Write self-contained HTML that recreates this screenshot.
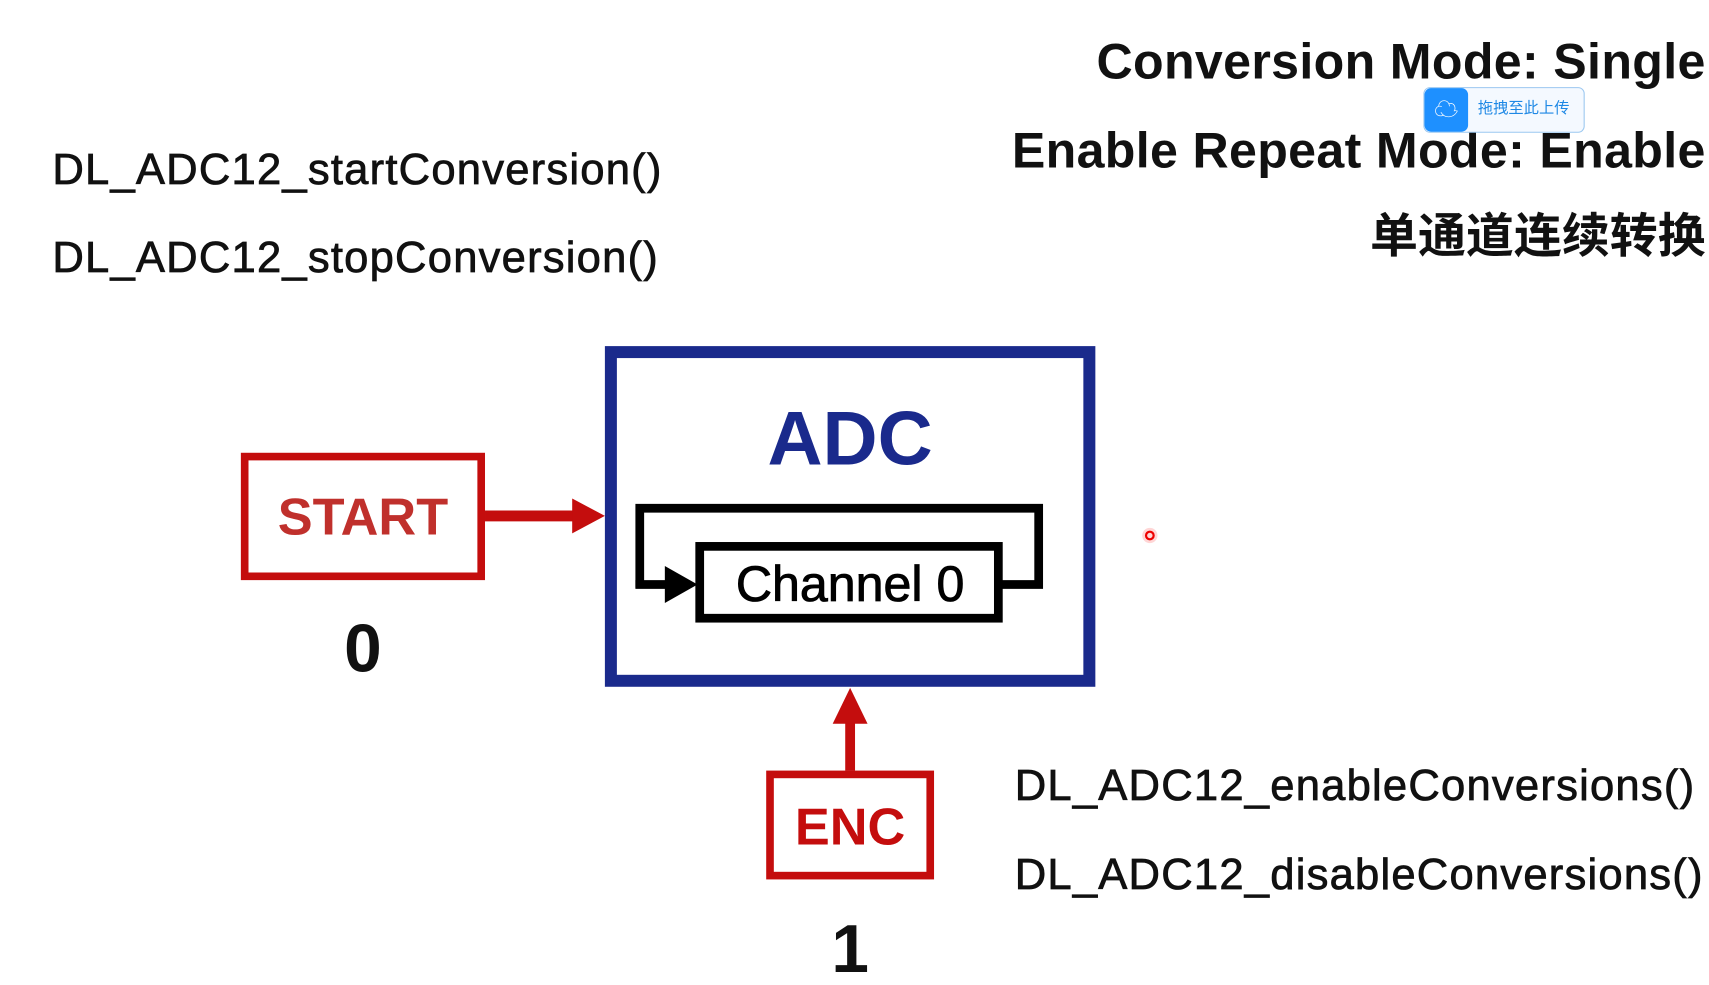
<!DOCTYPE html>
<html><head><meta charset="utf-8"><style>
html,body{margin:0;padding:0;background:#fff;overflow:hidden;width:1709px;height:985px}
#s{position:absolute;left:0;top:0;width:1568px;height:905px;transform:scale(1.0899,1.0884);transform-origin:0 0;font-family:"Liberation Sans","Noto Sans CJK SC",sans-serif}
.t{position:absolute;white-space:nowrap;line-height:1}
.r{right:3px;text-align:right;font-weight:bold;font-size:46px;color:#111}
.f{left:48px;font-size:40px;color:#111;letter-spacing:1.1px;-webkit-text-stroke:0.7px #111}
</style></head><body><div id="s">
<div class="t r" style="top:33px;letter-spacing:0.3px">Conversion Mode: Single</div>
<div class="t r" style="top:115px;letter-spacing:0.3px">Enable Repeat Mode: Enable</div>
<div class="t r" style="top:196px;font-size:44px">单通道连续转换</div>
<div style="position:absolute;left:1306px;top:80px;width:146px;height:40px;border:1px solid #9cc8f0;border-radius:6px;background:#f4f9ff"></div>
<div style="position:absolute;left:1307px;top:81px;width:40px;height:40px;border-radius:6px;background:#1e90ff;color:#fff;font-size:22px;text-align:center;line-height:40px">☁</div>
<div class="t" style="left:1356px;top:92px;font-size:14px;color:#1e88e5">拖拽至此上传</div>
<div class="t f" style="top:136px">DL_ADC12_startConversion()</div>
<div class="t f" style="top:217px">DL_ADC12_stopConversion()</div>
<div class="t f" style="left:931px;top:702px">DL_ADC12_enableConversions()</div>
<div class="t f" style="left:931px;top:784px">DL_ADC12_disableConversions()</div>
<svg width="1568" height="905" style="position:absolute;left:0;top:0">
<rect x="560.5" y="323.5" width="439" height="302" fill="none" stroke="#1a2a8c" stroke-width="11"/>
<text x="780" y="427" text-anchor="middle" font-family="Liberation Sans" font-weight="bold" font-size="70" fill="#1a2a8c">ADC</text>
<polyline points="587,540 587,467 953,467 953,537 918,537" fill="none" stroke="#000" stroke-width="8"/>
<line x1="583" y1="537" x2="615" y2="537" stroke="#000" stroke-width="8"/>
<polygon points="610,520 640,537 610,554" fill="#000"/>
<rect x="642" y="502" width="274" height="66" fill="#fff" stroke="#000" stroke-width="8"/>
<text x="780" y="552" text-anchor="middle" font-family="Liberation Sans" font-size="46" fill="#000" stroke="#000" stroke-width="0.8">Channel 0</text>
<rect x="224.5" y="419.5" width="217" height="110" fill="none" stroke="#c40d0d" stroke-width="7"/>
<text x="333" y="491" text-anchor="middle" font-family="Liberation Sans" font-weight="bold" font-size="48" fill="#c0302c">START</text>
<line x1="445" y1="474" x2="528" y2="474" stroke="#c40d0d" stroke-width="10"/>
<polygon points="525,458 555,474 525,490" fill="#c40d0d"/>
<text x="333" y="617" text-anchor="middle" font-family="Liberation Sans" font-weight="bold" font-size="62" fill="#111">0</text>
<rect x="706.5" y="711.5" width="147" height="93" fill="none" stroke="#c40d0d" stroke-width="7"/>
<text x="780" y="776" text-anchor="middle" font-family="Liberation Sans" font-weight="bold" font-size="48" fill="#c40d0d">ENC</text>
<line x1="780" y1="708" x2="780" y2="660" stroke="#c40d0d" stroke-width="9"/>
<polygon points="764,665 780,632 796,665" fill="#c40d0d"/>
<text x="780" y="893" text-anchor="middle" font-family="Liberation Sans" font-weight="bold" font-size="62" fill="#111">1</text>
<circle cx="1055" cy="492" r="7" fill="#ffd6d6"/>
<circle cx="1055" cy="492" r="3.5" fill="none" stroke="#e00" stroke-width="2"/>
</svg>
</div></body></html>
